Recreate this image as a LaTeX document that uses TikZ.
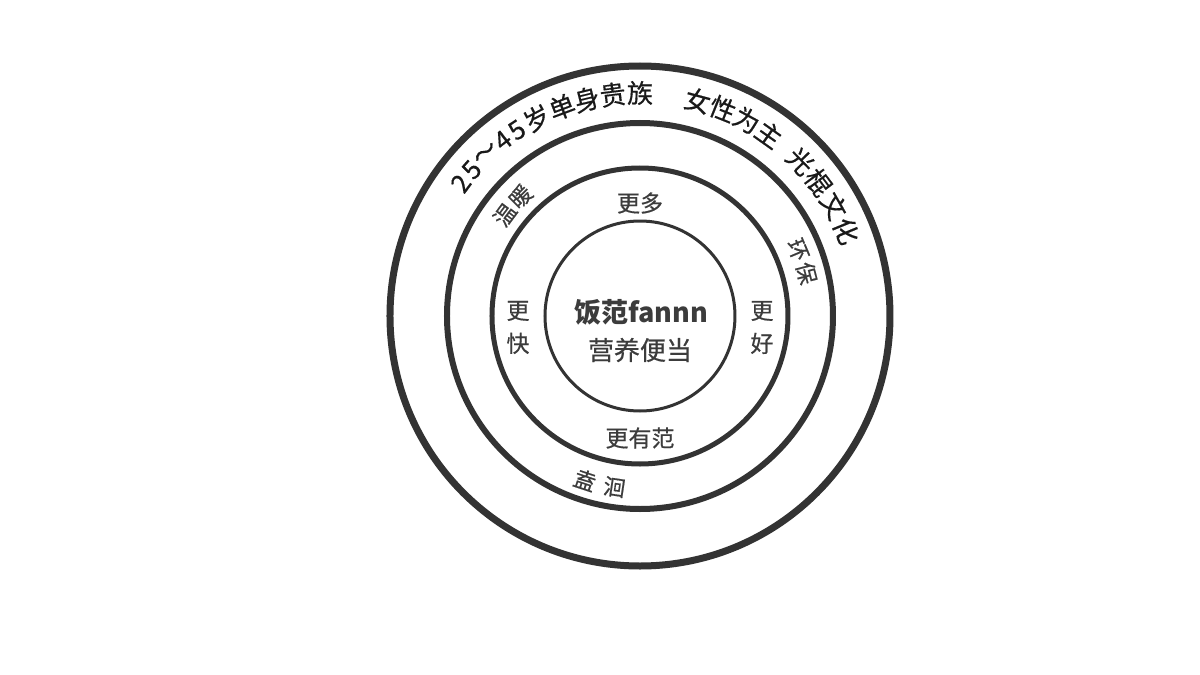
\documentclass[tikz,border=0pt]{standalone}
\usepackage{fontspec}
\setmainfont{Noto Sans CJK SC}
\newfontfamily\medfont{Noto Sans CJK SC}[FakeBold=0.5]
\definecolor{ring_gray}{RGB}{51,51,51}
\definecolor{text_dark}{RGB}{25,25,25}
\definecolor{text_gray}{RGB}{60,60,60}

\begin{document}
\begin{tikzpicture}[x=0.5pt,y=0.5pt]
    \tikzstyle{ring}=[draw=ring_gray]
    \tikzstyle{outer}=[inner sep=0pt, text=text_dark, font=\medfont\fontsize{13}{13}\selectfont]
    \tikzstyle{mid}=[inner sep=0pt, text=text_gray, font=\medfont\fontsize{11}{11}\selectfont]
    \tikzstyle{inn}=[inner sep=0pt, text=text_gray, align=center, font=\medfont\fontsize{11.5}{16.5}\selectfont]
    \tikzstyle{core}=[inner sep=0pt, text=text_gray, font=\medfont\fontsize{13}{13}\selectfont]
    \useasboundingbox (-640,-359) rectangle (560,316);

    \draw[ring, line width=3.5pt] (0,0) circle (250);
    \draw[ring, line width=3pt]   (0,0) circle (193);
    \draw[ring, line width=2.5pt] (0,0) circle (148);
    \draw[ring, line width=1.5pt] (0,0) circle (95);

    % outer ring
    \foreach \a/\c [count=\i] in {143.5/2, 139/5, 133.5/～, 128/4, 123.5/5,
        117.5/岁, 110.5/单, 103.8/身, 97/贵, 90/族,
        75/女, 68.2/性, 61.4/为, 54.6/主,
        44/光, 36.8/棍, 29.6/文, 22.4/化}
      \node[outer, rotate=\a-90] (o\i) at (\a:223) {\c};

    % middle ring
    \node[mid, rotate=53.2]  (m1) at (143.2:169) {温};
    \node[mid, rotate=45]    (m2) at (135:169)   {暖};
    \node[mid, rotate=-67.3] (m3) at (22.7:171)  {环};
    \node[mid, rotate=-75.6] (m4) at (14.4:172)  {保};
    \node[mid, rotate=-18.5] (m5) at (251.5:173) {盍};
    \node[mid, rotate=-8.5]  (m6) at (261.5:173) {洄};

    % inner ring
    \node[inn] (more)  at (0,113)      {更多};
    \node[inn] (fast)  at (-122,-11.5) {更\\快};
    \node[inn] (good)  at (122,-11.5)  {更\\好};
    \node[inn] (style) at (0,-122)     {更有范};

    \node[core, font=\fontsize{13.5}{13.5}\selectfont\bfseries] (brand) at (1,4) {饭范fannn};
    \node[core] (slogan) at (0,-34) {营养便当};
\end{tikzpicture}
\end{document}
